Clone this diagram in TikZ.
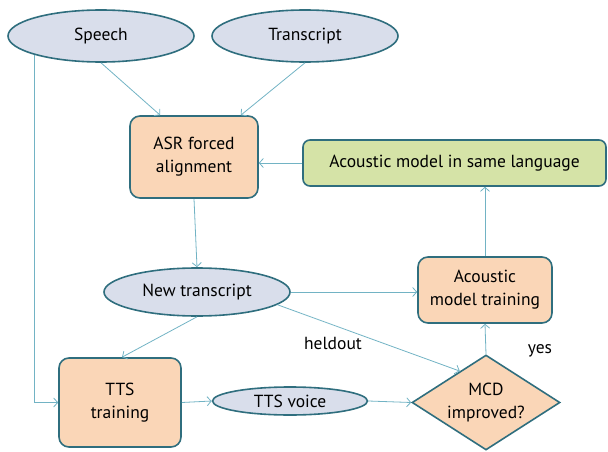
\documentclass[tikz,border=0pt]{standalone}
\usepackage{fontspec}
\setmainfont{PT Sans}
\usetikzlibrary{shapes.geometric,arrows.meta,calc}
\definecolor{bdr}{HTML}{2F6E7E}
\definecolor{ellfill}{HTML}{D9DEEB}
\definecolor{orfill}{HTML}{FAD6B7}
\definecolor{grfill}{HTML}{D5E3A7}
\definecolor{arrc}{HTML}{72B3C4}
\tikzset{
  base/.style={draw=bdr, line width=1.6pt, inner sep=0pt, align=center, font=\fontsize{17.5}{23}\selectfont},
  ell/.style={base, ellipse, fill=ellfill},
  box/.style={base, rectangle, rounded corners=10pt, fill=orfill},
  gbox/.style={base, rectangle, rounded corners=7pt, fill=grfill},
  dia/.style={base, diamond, fill=orfill, aspect=1.5},
  arr/.style={draw=arrc, line width=0.8pt, -{Straight Barb[length=4pt,width=9pt]}},
  lbl/.style={font=\fontsize{17.5}{23}\selectfont}
}
\begin{document}
\begin{tikzpicture}[x=1pt,y=-1pt]
\useasboundingbox (0,0) rectangle (608,452);
\node[ell, minimum width=186pt, minimum height=52pt] (speech) at (101,36) {Speech};
\node[ell, minimum width=186pt, minimum height=52pt] (trans) at (305,36) {Transcript};
\node[box, minimum width=128pt, minimum height=82pt] (asr) at (194,157) {ASR forced\\alignment};
\node[gbox, minimum width=303pt, minimum height=46pt] (green) at (454.5,163) {Acoustic model in same language};
\node[ell, minimum width=186pt, minimum height=48pt] (newt) at (197,292) {New transcript};
\node[box, minimum width=134pt, minimum height=66pt] (at) at (485,290) {Acoustic\\model training};
\node[box, minimum width=122pt, minimum height=89pt] (tts) at (120,402.5) {TTS\\training};
\node[ell, minimum width=155pt, minimum height=28pt] (tv) at (290,401) {TTS voice};
\node[dia, minimum width=148pt, minimum height=95pt] (mcd) at (486,402.5) {MCD\\improved?};
\node[lbl] (held) at (333,343) {heldout};
\node[lbl] (yes) at (540,351) {yes};

\draw[arr] (speech.south) -- ($(asr.north west)+(31,0)$);
\draw[arr] (trans.south) -- ($(asr.north east)+(-18,0)$);
\draw[arr] (speech.south west) |- (tts.west);
\draw[arr] (asr.south) -- (newt.north);
\draw[arr] (green.west) -- (green.west -| asr.east);
\draw[arr] (at.north) -- (at.north |- green.south);
\draw[arr] (newt.east) -- (newt.east -| at.west);
\draw[arr] (newt.south) -- ($(tts.north)+(2,0)$);
\draw[arr] (newt.-9) -- ($(mcd.north)!0.35!(mcd.west)$);
\draw[arr] (tts.east) -- (tv.west);
\draw[arr] (tv.east) -- (mcd.west);
\draw[arr] (mcd.north) -- (at.south);
\end{tikzpicture}
\end{document}
